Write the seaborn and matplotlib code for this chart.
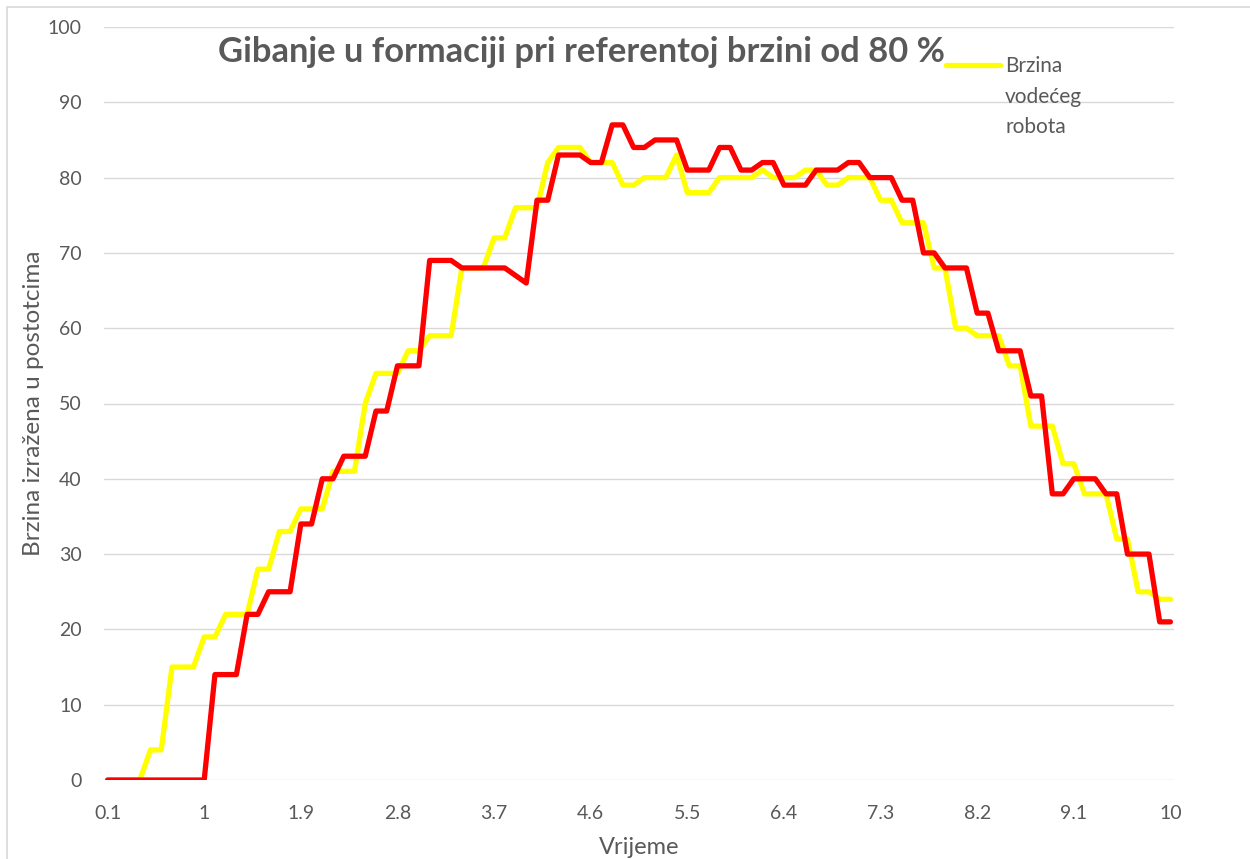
import numpy as np
import pandas as pd
import matplotlib
matplotlib.use("Agg")
import matplotlib.pyplot as plt
from matplotlib.lines import Line2D
from matplotlib.patches import Rectangle
import seaborn as sns

# Data
time = [round(0.1 * k, 1) for k in range(1, 101)]

leader_speed = [0, 0, 0, 0, 4, 4, 15, 15, 15, 19,
                19, 22, 22, 22, 28, 28, 33, 33, 36, 36,
                36, 41, 41, 41, 50, 54, 54, 54, 57, 57,
                59, 59, 59, 68, 68, 68, 72, 72, 76, 76,
                76, 82, 84, 84, 84, 82, 82, 82, 79, 79,
                80, 80, 80, 83, 78, 78, 78, 80, 80, 80,
                80, 81, 80, 80, 80, 81, 81, 79, 79, 80,
                80, 80, 77, 77, 74, 74, 74, 68, 68, 60,
                60, 59, 59, 59, 55, 55, 47, 47, 47, 42,
                42, 38, 38, 38, 32, 32, 25, 25, 24, 24]

follower_speed = [0, 0, 0, 0, 0, 0, 0, 0, 0, 0,
                  14, 14, 14, 22, 22, 25, 25, 25, 34, 34,
                  40, 40, 43, 43, 43, 49, 49, 55, 55, 55,
                  69, 69, 69, 68, 68, 68, 68, 68, 67, 66,
                  77, 77, 83, 83, 83, 82, 82, 87, 87, 84,
                  84, 85, 85, 85, 81, 81, 81, 84, 84, 81,
                  81, 82, 82, 79, 79, 79, 81, 81, 81, 82,
                  82, 80, 80, 80, 77, 77, 70, 70, 68, 68,
                  68, 62, 62, 57, 57, 57, 51, 51, 38, 38,
                  40, 40, 40, 38, 38, 30, 30, 30, 21, 21]

tick_values = time[::9]
tick_labels = ["0.1", "1", "1.9", "2.8", "3.7", "4.6", "5.5", "6.4", "7.3", "8.2", "9.1", "10"]

df = pd.DataFrame({"Vrijeme": time, "leader": leader_speed, "follower": follower_speed})

# Style
sns.set_style("white")
plt.rcParams["font.family"] = ["Lato", "DejaVu Sans"]
text_color = "#595959"
grid_color = "#d9d9d9"

fig = plt.figure(figsize=(12.5, 8.59), dpi=100)
ax = fig.add_axes([104 / 1250, 1 - 780 / 859, (1174 - 104) / 1250, (780 - 27) / 859])

sns.lineplot(data=df, x="Vrijeme", y="leader", color="#FFFF00", linewidth=3.8, ax=ax,
             solid_capstyle="round", solid_joinstyle="round", zorder=3)
sns.lineplot(data=df, x="Vrijeme", y="follower", color="#FF0000", linewidth=3.8, ax=ax,
             solid_capstyle="round", solid_joinstyle="round", zorder=4)

step = 0.1
ax.set_xlim(time[0] - step / 3, time[-1] + step / 3)
ax.set_ylim(0, 100)
ax.set_yticks(range(0, 101, 10))
ax.set_xticks(tick_values)
ax.set_xticklabels(tick_labels)

ax.grid(axis="y", color=grid_color, linewidth=1.0, zorder=0)
ax.grid(axis="x", visible=False)
for s in ax.spines.values():
    s.set_visible(False)
ax.tick_params(axis="both", length=0, labelsize=14, labelcolor=text_color)
ax.tick_params(axis="y", pad=16)
ax.tick_params(axis="x", pad=18)

ax.set_xlabel("Vrijeme", fontsize=17, color=text_color, labelpad=11)
ax.set_ylabel("Brzina izražena u postotcima", fontsize=17.5, color=text_color, labelpad=3)

# Title (offset to the left like in the original)
fig.text(582 / 1250, 1 - 52 / 859, "Gibanje u formaciji pri referentoj brzini od 80 %",
         ha="center", va="center", fontsize=24.8, fontweight="bold", color=text_color)

# Legend (only the leader robot is listed)
fig.add_artist(Line2D([946 / 1250, 1000 / 1250], [1 - 65 / 859, 1 - 65 / 859],
                      transform=fig.transFigure, color="#FFFF00", linewidth=3.8,
                      solid_capstyle="round"))
fig.text(1005 / 1250, 1 - 56 / 859, "Brzina\nvodećeg\nrobota", ha="left", va="top",
         fontsize=15, color=text_color, linespacing=1.66)

# Chart border (cropped on the right and bottom)
fig.add_artist(Rectangle((7 / 1250, -0.1), 1.2, (859 - 7) / 859 + 0.1,
                         transform=fig.transFigure, fill=False,
                         edgecolor=grid_color, linewidth=1.2))

fig.savefig("out.png", dpi=100, facecolor="white")
